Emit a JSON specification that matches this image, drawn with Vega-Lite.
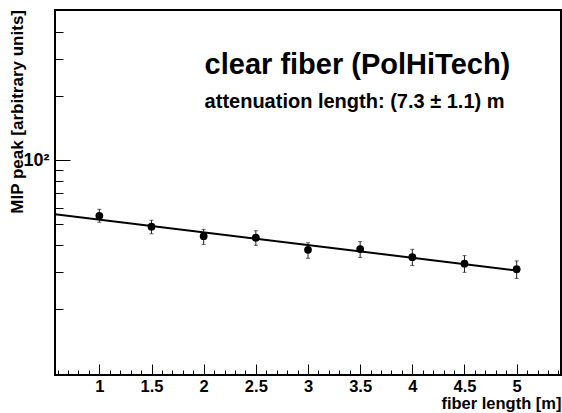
{
  "$schema": "https://vega.github.io/schema/vega-lite/v6.json",
  "autosize": {"type": "none"},
  "padding": {"left": 55, "top": 10, "right": 1, "bottom": 38},
  "width": 506,
  "height": 365,
  "background": "white",
  "config": {
    "view": {"stroke": "black", "strokeWidth": 2},
    "font": "Liberation Sans",
    "axis": {"grid": false, "domain": false, "labelFont": "Liberation Sans", "titleFont": "Liberation Sans", "labelColor": "black", "titleColor": "black", "tickColor": "black"}
  },
  "datasets": {
    "points": [
      {"x": 1.0, "y": 54.9, "lo": 51.2, "hi": 58.9},
      {"x": 1.5, "y": 48.8, "lo": 45.2, "hi": 52.3},
      {"x": 2.0, "y": 44.0, "lo": 40.3, "hi": 47.4},
      {"x": 2.5, "y": 43.3, "lo": 39.9, "hi": 46.7},
      {"x": 3.0, "y": 38.0, "lo": 34.7, "hi": 41.0},
      {"x": 3.5, "y": 38.3, "lo": 35.0, "hi": 41.5},
      {"x": 4.0, "y": 35.1, "lo": 32.1, "hi": 38.2},
      {"x": 4.5, "y": 32.7, "lo": 29.8, "hi": 35.7},
      {"x": 5.0, "y": 30.8, "lo": 27.9, "hi": 33.7}
    ],
    "fit": [
      {"x": 0.575, "y": 55.8},
      {"x": 5.0, "y": 30.4}
    ],
    "title1": [{"x": 2.009, "y": 253.4, "label": "clear fiber (PolHiTech)"}],
    "title2": [{"x": 2.009, "y": 176.6, "label": "attenuation length: (7.3 ± 1.1) m"}]
  },
  "resolve": {"axis": {"x": "independent", "y": "independent"}},
  "layer": [
    {
      "data": {"name": "fit"},
      "mark": {"type": "line", "color": "black", "strokeWidth": 2, "clip": true},
      "encoding": {
        "x": {"field": "x", "type": "quantitative",
          "scale": {"domain": [0.575, 5.425], "nice": false, "zero": false},
          "axis": {"orient": "bottom", "values": [1, 1.5, 2, 2.5, 3, 3.5, 4, 4.5, 5], "format": "~g", "ticks": false, "labelPadding": 3, "labelFontSize": 16.5, "labelFontWeight": "bold", "labelFlush": false,
            "title": "fiber length [m]", "titleFontSize": 16.5, "titleFontWeight": "bold", "titleAnchor": "end", "titleAlign": "right", "titleBaseline": "alphabetic", "titleX": 506, "titleY": 33}},
        "y": {"field": "y", "type": "quantitative",
          "scale": {"type": "log", "domain": [9.82, 507.6], "nice": false, "zero": false},
          "axis": {"orient": "left", "values": [100], "labelExpr": "'10²'", "ticks": false, "labelPadding": 6, "labelFontSize": 18, "labelFontWeight": "bold",
            "title": "MIP peak [arbitrary units]", "titleFontSize": 17, "titleFontWeight": "bold", "titleAngle": 270, "titleAlign": "right", "titleBaseline": "alphabetic", "titleX": -32.5, "titleY": -0.5}}
      }
    },
    {
      "data": {"name": "points"},
      "mark": {"type": "errorbar", "ticks": {"size": 4, "color": "#222"}, "rule": {"strokeWidth": 1, "color": "#222"}},
      "encoding": {
        "x": {"field": "x", "type": "quantitative", "axis": null},
        "y": {"field": "lo", "type": "quantitative", "axis": null},
        "y2": {"field": "hi"}
      }
    },
    {
      "data": {"name": "points"},
      "mark": {"type": "circle", "color": "black", "opacity": 1, "size": 60},
      "encoding": {
        "x": {"field": "x", "type": "quantitative",
          "axis": {"orient": "bottom", "values": [1, 1.5, 2, 2.5, 3, 3.5, 4, 4.5, 5], "labels": false, "tickSize": -11, "tickWidth": 1, "title": null}},
        "y": {"field": "y", "type": "quantitative",
          "axis": {"orient": "left", "values": [100], "labels": false, "tickSize": -15, "tickWidth": 1, "title": null}}
      }
    },
    {
      "data": {"name": "title1"},
      "mark": {"type": "text", "align": "left", "baseline": "alphabetic", "fontSize": 29, "fontWeight": "bold", "color": "black"},
      "encoding": {
        "x": {"field": "x", "type": "quantitative",
          "axis": {"orient": "bottom", "values": [0.6, 0.7, 0.8, 0.9, 1.0, 1.1, 1.2, 1.3, 1.4, 1.5, 1.6, 1.7, 1.8, 1.9, 2.0, 2.1, 2.2, 2.3, 2.4, 2.5, 2.6, 2.7, 2.8, 2.9, 3.0, 3.1, 3.2, 3.3, 3.4, 3.5, 3.6, 3.7, 3.8, 3.9, 4.0, 4.1, 4.2, 4.3, 4.4, 4.5, 4.6, 4.7, 4.8, 4.9, 5.0, 5.1, 5.2, 5.3, 5.4], "labels": false, "tickSize": -5, "tickWidth": 1, "title": null}},
        "y": {"field": "y", "type": "quantitative",
          "axis": {"orient": "left", "values": [20, 30, 40, 50, 60, 70, 80, 90, 200, 300, 400], "labels": false, "tickSize": -8, "tickWidth": 1, "title": null}},
        "text": {"field": "label"}
      }
    },
    {
      "data": {"name": "title2"},
      "mark": {"type": "text", "align": "left", "baseline": "alphabetic", "fontSize": 20, "fontWeight": "bold", "color": "black"},
      "encoding": {
        "x": {"field": "x", "type": "quantitative", "axis": null},
        "y": {"field": "y", "type": "quantitative", "axis": null},
        "text": {"field": "label"}
      }
    }
  ]
}
